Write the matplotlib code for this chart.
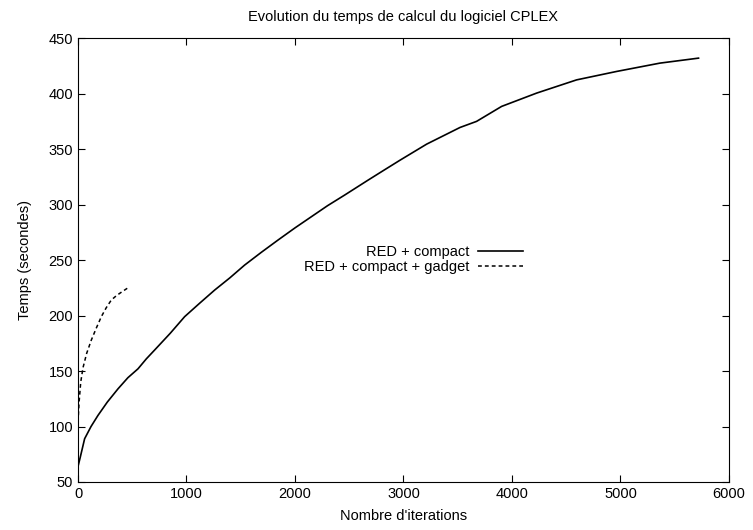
import matplotlib
matplotlib.use("Agg")
import matplotlib.pyplot as plt

plt.rcParams["font.family"] = ["Liberation Sans", "DejaVu Sans"]

# RED + compact
iter_compact = [0, 20, 61, 120, 184, 270, 369, 460, 553, 630, 707, 850, 983,
                1120, 1260, 1400, 1536, 1690, 1843, 2000, 2150, 2300, 2458,
                2673, 2820, 2968, 3214, 3521, 3674, 3905, 4228, 4596, 4965,
                5364, 5720]
time_compact = [64, 72, 89, 100, 110, 122, 134, 144, 152, 161, 169, 184, 199,
                211, 223, 234, 245.5, 257, 268, 279, 289, 299, 308.6,
                322, 331, 340, 354.5, 369.5, 375, 388.5, 400.5, 412.4, 420,
                427.5, 432]

# RED + compact + gadget
iter_gadget = [0, 10, 25, 46, 80, 123, 170, 215, 260, 307, 355, 399, 476]
time_gadget = [104, 122, 140, 153, 166, 178, 189, 199, 207, 214, 218, 221, 226]

fig, ax = plt.subplots(figsize=(7.53, 5.30), dpi=100)
fig.subplots_adjust(left=0.1036, right=0.968, top=0.928, bottom=0.0906)

fs = 10.5
ax.plot(iter_compact, time_compact, color="black", lw=1.2, label="RED + compact")
ax.plot(iter_gadget, time_gadget, color="black", lw=1.1, ls=(0, (2.5, 2)),
        label="RED + compact + gadget")

ax.set_xlim(0, 6000)
ax.set_ylim(50, 450)
ax.set_xticks(range(0, 6001, 1000))
ax.set_yticks(range(50, 451, 50))
ax.tick_params(direction="in", top=True, right=True, labelsize=fs, length=5)
ax.set_xlabel("Nombre d'iterations", fontsize=fs, labelpad=6)
ax.set_ylabel("Temps (secondes)", fontsize=fs, labelpad=12)
ax.set_title("Evolution du temps de calcul du logiciel CPLEX", fontsize=fs, pad=12)

ax.legend(loc="upper right", bbox_to_anchor=(0.695, 0.55), frameon=False,
          markerfirst=False, fontsize=fs, handlelength=3.1, labelspacing=0.05,
          handletextpad=0.55, borderpad=0)

fig.savefig("out.png")
